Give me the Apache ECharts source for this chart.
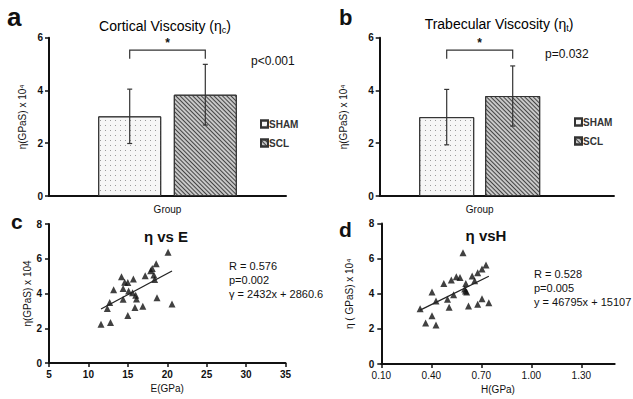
<!DOCTYPE html>
<html><head><meta charset="utf-8">
<script src="https://cdn.jsdelivr.net/npm/echarts@6/dist/echarts.min.js"></script>
<style>html,body{margin:0;padding:0;background:#fff}#c{width:633px;height:399px}</style>
</head><body><div id="c"></div>
<script>
// ---- data ----
const groups = ['SHAM', 'SCL'];
const groupAxis = ['Group'];
const corticalMean = [3.02, 3.84];
const corticalSD = [1.03, 1.15];
const trabecularMean = [2.99, 3.79];
const trabecularSD = [1.05, 1.14];
const corticalP = 'p<0.001';
const trabecularP = 'p=0.032';
const barTicks = [0, 2, 4, 6];
const scatterYTicks = [0, 2, 4, 6, 8];
const eTicks = [5, 10, 15, 20, 25, 30, 35];
const hTicks = [0.10, 0.40, 0.70, 1.00, 1.30];
const hRange = [0.10, 1.50];
const eVals = [20.1, 18.6, 18.1, 17.9, 18.3, 18.4, 17.2, 15.7, 14.2, 14.6, 15.0, 14.4, 15.1, 15.6, 16.0, 16.1, 13.2, 14.4, 12.7, 12.4, 15.9, 16.9, 18.7, 20.6, 15.0, 12.8, 11.6];
const etaE = [6.38, 5.71, 5.44, 5.31, 5.06, 4.81, 5.02, 4.83, 4.96, 4.65, 4.63, 4.29, 4.15, 4.04, 3.90, 3.69, 4.21, 3.67, 3.48, 3.13, 3.19, 3.27, 3.75, 3.40, 2.73, 2.33, 2.23];
const hVals = [0.590, 0.728, 0.704, 0.678, 0.645, 0.660, 0.572, 0.550, 0.520, 0.475, 0.607, 0.600, 0.605, 0.612, 0.534, 0.497, 0.404, 0.428, 0.333, 0.507, 0.623, 0.678, 0.704, 0.745, 0.404, 0.366, 0.428];
const etaH = [6.34, 5.64, 5.41, 5.20, 5.01, 4.74, 4.93, 4.97, 4.78, 4.59, 4.59, 4.27, 4.16, 4.10, 3.95, 3.68, 4.10, 3.59, 3.15, 3.23, 3.30, 3.40, 3.72, 3.49, 2.75, 2.33, 2.22];
const fitE = { slope: 2432, intercept: 2860.6 };   // eta (x1e-4 GPa s)
const fitH = { slope: 46795, intercept: 15107 };
const statsE = ['R = 0.576', 'p=0.002', 'γ = 2432x + 2860.6'];
const statsH = ['R = 0.528', 'p=0.005', 'y = 46795x + 15107'];
const bracketLevel = [5.53, 5.2]; // significance bracket (value units)

// ---- styles ----
const FONT = 'Liberation Sans, Arial, sans-serif';
const INK = '#111';
const shamStyle = {
  color: '#f6f6f6', borderColor: '#333', borderWidth: 1,
  decal: { symbol: 'rect', symbolSize: 1, color: '#9a9a9a', dashArrayX: [1, 4], dashArrayY: [1, 4] }
};
const sclStyle = {
  color: '#c8c8c8', borderColor: '#333', borderWidth: 1,
  decal: { symbol: 'rect', symbolSize: 1, color: '#444', dashArrayX: [1, 0], dashArrayY: [1, 2], rotation: Math.PI / 4 }
};

function fitLine(xs, fit) {
  const lo = Math.min(...xs), hi = Math.max(...xs);
  return [lo, hi].map(x => [x, (fit.slope * x + fit.intercept) / 1e4]);
}

function barAxes(gi, gap) {
  return {
    x: { type: 'category', gridIndex: gi, data: groupAxis,
      axisLine: { lineStyle: { color: INK, width: 2 } }, axisTick: { show: false },
      axisLabel: { color: INK, fontSize: 10, fontFamily: FONT, margin: 8 } },
    y: { type: 'value', gridIndex: gi, min: 0, max: 6, interval: 2,
      name: 'η(GPaS) x 10⁴', nameLocation: 'middle', nameGap: gap,
      nameTextStyle: { color: INK, fontSize: 10, fontFamily: FONT },
      splitLine: { show: false },
      axisLine: { show: true, lineStyle: { color: INK, width: 2 } },
      axisTick: { show: true, length: 4, lineStyle: { color: INK, width: 1.5 } },
      axisLabel: { color: INK, fontSize: 10, fontWeight: 'bold', fontFamily: FONT, margin: 6 } }
  };
}

function errSeries(gi, means, sds, barW) {
  const off = barW * 0.6;
  return {
    type: 'custom', xAxisIndex: gi, yAxisIndex: gi, silent: true, z: 5,
    data: means.map((m, i) => [0, m, sds[i], i]),
    renderItem: (params, api) => {
      const m = api.value(1), s = api.value(2), i = api.value(3);
      const cx = api.coord([0, m])[0] + (i === 0 ? -off : off);
      const yt = api.coord([0, m + s])[1], yb = api.coord([0, m - s])[1];
      const st = { stroke: '#333', lineWidth: 1.2 };
      return { type: 'group', children: [
        { type: 'line', shape: { x1: cx, y1: yt, x2: cx, y2: yb }, style: st },
        { type: 'line', shape: { x1: cx - 2.5, y1: yt, x2: cx + 2.5, y2: yt }, style: st },
        { type: 'line', shape: { x1: cx - 2.5, y1: yb, x2: cx + 2.5, y2: yb }, style: st }
      ] };
    }
  };
}

function bracketSeries(gi, barW) {
  const off = barW * 0.6;
  return {
    type: 'custom', xAxisIndex: gi, yAxisIndex: gi, silent: true, z: 5,
    data: [[0, bracketLevel[0], bracketLevel[1]]],
    renderItem: (params, api) => {
      const c = api.coord([0, api.value(1)]);
      const yl = api.coord([0, api.value(2)])[1];
      const x1 = c[0] - off, x2 = c[0] + off;
      const st = { stroke: '#333', lineWidth: 1.2, fill: null };
      return { type: 'group', children: [
        { type: 'polyline', shape: { points: [[x1, yl], [x1, c[1]], [x2, c[1]], [x2, yl]] }, style: st },
        { type: 'text', style: { text: '*', x: c[0], y: c[1] - 1, align: 'center', verticalAlign: 'bottom', fill: INK, font: 'bold 12px ' + FONT } }
      ] };
    }
  };
}

const A = barAxes(0, 22), B = barAxes(1, 31);

function scatterY(gi, name, gap) {
  return { type: 'value', gridIndex: gi, min: 0, max: 8, interval: 2,
    name: name, nameLocation: 'middle', nameGap: gap,
    nameTextStyle: { color: INK, fontSize: 10, fontFamily: FONT },
    splitLine: { show: false },
    axisLine: { show: true, lineStyle: { color: INK, width: 2 } },
    axisTick: { show: true, length: 4, lineStyle: { color: INK, width: 1.5 } },
    axisLabel: { color: INK, fontSize: 10, fontWeight: 'bold', fontFamily: FONT, margin: 7 } };
}

const titleRich = {
  n: { fontSize: 14, fontFamily: FONT, color: '#000', fontWeight: 'normal' },
  s: { fontSize: 9, fontFamily: FONT, color: '#000', fontWeight: 'normal', padding: [7, 0, 0, 0] }
};

const option = {
  animation: false,
  backgroundColor: '#fff',
  title: [
    { text: '{n|Cortical Viscosity (η}{s|c}{n|)}', left: 160, top: 13, textAlign: 'center',
      textStyle: { rich: titleRich } },
    { text: '{n|Trabecular Viscosity (η}{s|t}{n|)}', left: 494, top: 11, textAlign: 'center',
      textStyle: { rich: titleRich } },
    { text: 'η vs E', left: 161, top: 224, textAlign: 'center', textStyle: { fontSize: 15, fontWeight: 'bold', fontFamily: FONT, color: INK } },
    { text: 'η vsH', left: 481, top: 223, textAlign: 'center', textStyle: { fontSize: 15, fontWeight: 'bold', fontFamily: FONT, color: INK } }
  ],
  legend: [
    { data: groups, orient: 'vertical', left: 260, top: 119, itemWidth: 7, itemHeight: 7, itemGap: 9, padding: 0,
      icon: 'rect', selectedMode: false, textStyle: { fontSize: 10, fontWeight: 'bold', fontFamily: FONT, color: '#333', padding: [0, 0, 0, -4] } },
    { data: groups, orient: 'vertical', left: 574, top: 117, itemWidth: 7, itemHeight: 7, itemGap: 9, padding: 0,
      icon: 'rect', selectedMode: false, textStyle: { fontSize: 10, fontWeight: 'bold', fontFamily: FONT, color: '#333', padding: [0, 0, 0, -4] } }
  ],
  grid: [
    { left: 49, top: 37.7, width: 237, height: 158.3 },
    { left: 379.7, top: 37.7, width: 200, height: 158.3 },
    { left: 49, top: 224, width: 236.5, height: 139 },
    { left: 381.3, top: 223.5, width: 233.4, height: 140.5 }
  ],
  xAxis: [A.x, B.x,
    { type: 'value', gridIndex: 2, min: eTicks[0], max: eTicks[eTicks.length - 1], interval: 5,
      name: 'E(GPa)', nameLocation: 'middle', nameGap: 20,
      nameTextStyle: { color: INK, fontSize: 10, fontFamily: FONT },
      splitLine: { show: false },
      axisLine: { lineStyle: { color: INK, width: 2 } },
      axisTick: { length: 4, lineStyle: { color: INK, width: 1.5 } },
      axisLabel: { color: INK, fontSize: 10, fontWeight: 'bold', fontFamily: FONT, margin: 6 } },
    { type: 'value', gridIndex: 3, min: hRange[0], max: hRange[1],
      name: 'H(GPa)', nameLocation: 'middle', nameGap: 20,
      nameTextStyle: { color: INK, fontSize: 10, fontFamily: FONT },
      splitLine: { show: false },
      axisLine: { lineStyle: { color: INK, width: 2 } },
      axisTick: { length: 4, customValues: hTicks, lineStyle: { color: INK, width: 1.5 } },
      axisLabel: { color: INK, fontSize: 10, fontFamily: FONT, margin: 6, customValues: hTicks, formatter: v => v.toFixed(2) } }
  ],
  yAxis: [A.y, B.y, scatterY(2, 'η(GPaS) x 104', 16), scatterY(3, 'η ( GPaS) x 10⁴', 27)],
  series: [
    { name: groups[0], type: 'bar', xAxisIndex: 0, yAxisIndex: 0, data: [corticalMean[0]], barWidth: 63, barGap: '20%', itemStyle: shamStyle },
    { name: groups[1], type: 'bar', xAxisIndex: 0, yAxisIndex: 0, data: [corticalMean[1]], barWidth: 63, barGap: '20%', itemStyle: sclStyle },
    { name: groups[0], type: 'bar', xAxisIndex: 1, yAxisIndex: 1, data: [trabecularMean[0]], barWidth: 55, barGap: '20%', itemStyle: shamStyle },
    { name: groups[1], type: 'bar', xAxisIndex: 1, yAxisIndex: 1, data: [trabecularMean[1]], barWidth: 55, barGap: '20%', itemStyle: sclStyle },
    errSeries(0, corticalMean, corticalSD, 63),
    errSeries(1, trabecularMean, trabecularSD, 55),
    bracketSeries(0, 63),
    bracketSeries(1, 55),
    { type: 'scatter', xAxisIndex: 2, yAxisIndex: 2, symbol: 'triangle', symbolSize: 7,
      itemStyle: { color: '#111' }, data: eVals.map((x, i) => [x, etaE[i]]) },
    { type: 'line', xAxisIndex: 2, yAxisIndex: 2, symbol: 'none', lineStyle: { color: '#222', width: 1.3 }, data: fitLine(eVals, fitE) },
    { type: 'scatter', xAxisIndex: 3, yAxisIndex: 3, symbol: 'triangle', symbolSize: 7,
      itemStyle: { color: '#111' }, data: hVals.map((x, i) => [x, etaH[i]]) },
    { type: 'line', xAxisIndex: 3, yAxisIndex: 3, symbol: 'none', lineStyle: { color: '#222', width: 1.3 }, data: fitLine(hVals, fitH) }
  ],
  graphic: [
    { type: 'line', shape: { x1: 579.7, y1: 196, x2: 614.7, y2: 196 }, style: { stroke: INK, lineWidth: 2 } },
    { type: 'text', left: 7, top: 4, style: { text: 'a', font: 'bold 26px ' + FONT, fill: INK } },
    { type: 'text', left: 339, top: 6, style: { text: 'b', font: 'bold 22px ' + FONT, fill: INK } },
    { type: 'text', left: 11, top: 211, style: { text: 'c', font: 'bold 21px ' + FONT, fill: INK } },
    { type: 'text', left: 339, top: 219, style: { text: 'd', font: 'bold 21px ' + FONT, fill: INK } },
    { type: 'text', left: 251, top: 55, style: { text: corticalP, font: '12px ' + FONT, fill: INK } },
    { type: 'text', left: 545, top: 48, style: { text: trabecularP, font: '12px ' + FONT, fill: INK } },
    { type: 'text', left: 229, top: 259, style: { text: statsE.join('\n'), font: '11px ' + FONT, fill: INK, lineHeight: 14 } },
    { type: 'text', left: 534, top: 267, style: { text: statsH.join('\n'), font: '11px ' + FONT, fill: INK, lineHeight: 14 } }
  ]
};
const chart = echarts.init(document.getElementById('c'), null, { renderer: 'svg' });
chart.setOption(option);
</script></body></html>
